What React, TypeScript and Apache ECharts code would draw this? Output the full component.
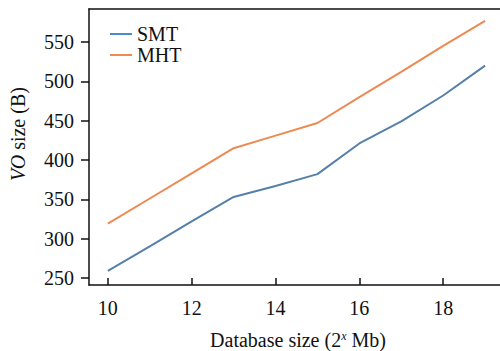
import React, { useEffect, useRef } from "react";
import * as echarts from "echarts";

const xValues = [10, 11, 12, 13, 14, 15, 16, 17, 18, 19];
const smtValues = [259, 290, 322, 353, 367, 382, 421, 449, 482, 520];
const mhtValues = [319, 351, 383, 415, 431, 447, 480, 512, 545, 577];
const xTicks = [10, 12, 14, 16, 18];
const yTicks = [250, 300, 350, 400, 450, 500, 550];

const FONT = "Liberation Serif";

export default function App() {
  const ref = useRef<HTMLDivElement>(null);
  useEffect(() => {
    document.body.style.margin = "0";
    const chart = echarts.init(ref.current!, null, { renderer: "svg" });
    const labelRich = { a: { fontFamily: FONT, fontSize: 20, color: "#111" } };
    chart.setOption({
      animation: false,
      textStyle: { fontFamily: FONT },
      grid: { left: 89, top: 9, bottom: 66, right: -27, outerBoundsMode: "none", show: false },
      legend: {
        orient: "vertical",
        left: 105,
        top: 19,
        icon: "rect",
        itemWidth: 22,
        itemHeight: 2,
        itemGap: 1,
        textStyle: { fontFamily: FONT, fontSize: 20, lineHeight: 20, color: "#111" },
        data: ["SMT", "MHT"],
      },
      xAxis: [
        {
          type: "value",
          min: 9.55,
          max: 20,
          axisLine: { show: true, lineStyle: { color: "#111", width: 1.5 } },
          axisTick: { show: true, inside: true, length: 7, customValues: xTicks, lineStyle: { color: "#111", width: 1.5 } },
          axisLabel: {
            customValues: xTicks,
            fontFamily: FONT,
            fontSize: 20,
            color: "#111",
            margin: 13,
            formatter: (v: number) => `{a|${v}}`,
            rich: labelRich,
          },
          splitLine: { show: false },
        },
        {
          type: "value",
          position: "top",
          min: 9.55,
          max: 20,
          axisLine: { show: true, onZero: false, lineStyle: { color: "#111", width: 1.5 } },
          axisTick: { show: false },
          axisLabel: { show: false },
          splitLine: { show: false },
        },
      ],
      yAxis: {
        type: "value",
        min: 241,
        max: 592,
        axisLine: { show: true, lineStyle: { color: "#111", width: 1.5 } },
        axisTick: { show: true, inside: false, length: 8, customValues: yTicks, lineStyle: { color: "#111", width: 1.5 } },
        axisLabel: {
          customValues: yTicks,
          fontFamily: FONT,
          fontSize: 20,
          color: "#111",
          margin: 15,
          formatter: (v: number) => `{a|${v}}`,
          rich: labelRich,
        },
        splitLine: { show: false },
      },
      graphic: [
        {
          type: "text",
          x: 18,
          y: 134,
          rotation: Math.PI / 2,
          style: {
            text: "{i|VO} size (B)",
            fontFamily: FONT,
            fontSize: 20,
            fill: "#111",
            align: "center",
            verticalAlign: "middle",
            rich: { i: { fontStyle: "italic", fontFamily: FONT, fontSize: 20, fill: "#111" } },
          },
        },
        {
          type: "text",
          x: 298,
          y: 340,
          style: {
            text: "Database size (2{s|x} Mb)",
            fontFamily: FONT,
            fontSize: 20,
            fill: "#111",
            align: "center",
            verticalAlign: "middle",
            rich: {
              s: { fontStyle: "italic", fontFamily: FONT, fontSize: 12, fill: "#111", verticalAlign: "top", padding: [0, 0, 9, 0] },
            },
          },
        },
      ],
      series: [
        {
          name: "SMT",
          type: "line",
          data: xValues.map((x, i) => [x, smtValues[i]]),
          showSymbol: false,
          symbol: "none",
          lineStyle: { color: "#5580aa", width: 2 },
          itemStyle: { color: "#4a8ad0" },
        },
        {
          name: "MHT",
          type: "line",
          data: xValues.map((x, i) => [x, mhtValues[i]]),
          showSymbol: false,
          symbol: "none",
          lineStyle: { color: "#ec8a52", width: 2 },
          itemStyle: { color: "#ec8a52" },
        },
      ],
    });
    return () => chart.dispose();
  }, []);
  return <div ref={ref} style={{ width: 500, height: 351 }} />;
}
